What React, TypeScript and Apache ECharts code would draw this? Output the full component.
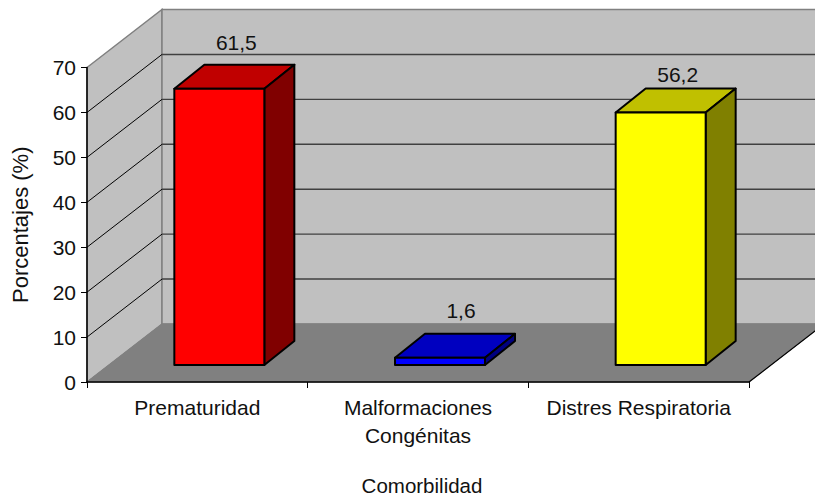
import React, { useEffect, useRef } from "react";
import * as echarts from "echarts";

const categories = ["Prematuridad", "Malformaciones\nCongénitas", "Distres Respiratoria"];
const values = [61.5, 1.6, 56.2];
const valueLabels = ["61,5", "1,6", "56,2"];
const gridTicks = [10, 20, 30, 40, 50, 60];
const frontColors = ["#FF0000", "#0000FF", "#FFFF00"];
const topColors = ["#C00000", "#0000C0", "#C0C000"];
const sideColors = ["#800000", "#000080", "#808000"];

const FONT = '"Liberation Sans", Arial, sans-serif';
const FS = 21;
const DEPTH_X = 75;
const DEPTH_Y = -58;
const BAR_W = 90;
const BAR_SHIFT_X = 22;
const BAR_SHIFT_Y = -17;
const BAR_DX = 30;
const BAR_DY = -24;
const labelGap = [34, 35, 26];
const labelShift = [2, 6, 2];

export default function App() {
  const ref = useRef<HTMLDivElement>(null);
  useEffect(() => {
    document.body.style.margin = "0";
    document.body.style.overflow = "hidden";
    const chart = echarts.init(ref.current!, null, { renderer: "svg" });

    const renderWalls = (params: any, api: any) => {
      const cs = params.coordSys;
      const l = cs.x, r = cs.x + cs.width, t = cs.y, b = cs.y + cs.height;
      const edge = { stroke: "#808080", lineWidth: 1.5 };
      return {
        type: "group",
        children: [
          { type: "polygon", shape: { points: [[l, t], [l + DEPTH_X, t + DEPTH_Y], [l + DEPTH_X, b + DEPTH_Y], [l, b]] }, style: { fill: "#C0C0C0", ...edge } },
          { type: "polygon", shape: { points: [[l + DEPTH_X, t + DEPTH_Y], [r + DEPTH_X, t + DEPTH_Y], [r + DEPTH_X, b + DEPTH_Y], [l + DEPTH_X, b + DEPTH_Y]] }, style: { fill: "#C0C0C0", ...edge } },
          { type: "polygon", shape: { points: [[l, b], [l + DEPTH_X, b + DEPTH_Y], [r + DEPTH_X, b + DEPTH_Y], [r, b]] }, style: { fill: "#808080", stroke: "#808080", lineWidth: 1 } },
          { type: "line", shape: { x1: r, y1: b, x2: r + DEPTH_X, y2: b + DEPTH_Y }, style: { stroke: "#000", lineWidth: 1.2 } },
        ],
      };
    };

    const renderGrid = (params: any, api: any) => {
      const cs = params.coordSys;
      const l = cs.x, r = cs.x + cs.width;
      const y = api.coord([0, api.value(0)])[1];
      return {
        type: "group",
        children: [
          { type: "line", shape: { x1: l, y1: y, x2: l + DEPTH_X, y2: y + DEPTH_Y }, style: { stroke: "#000", lineWidth: 1 } },
          { type: "line", shape: { x1: l + DEPTH_X, y1: y + DEPTH_Y, x2: r + DEPTH_X, y2: y + DEPTH_Y }, style: { stroke: "#404040", lineWidth: 1.4 } },
        ],
      };
    };

    const renderBar = (params: any, api: any) => {
      const i = api.value(0);
      const top = api.coord([i, api.value(1)]);
      const base = api.coord([i, 0]);
      const x0 = top[0] + BAR_SHIFT_X - BAR_W / 2;
      const x1 = x0 + BAR_W;
      const yT = top[1] + BAR_SHIFT_Y;
      const yB = base[1] + BAR_SHIFT_Y;
      const s = { stroke: "#000", lineWidth: 2, lineJoin: "round" };
      return {
        type: "group",
        children: [
          { type: "polygon", shape: { points: [[x0, yT], [x1, yT], [x1 + BAR_DX, yT + BAR_DY], [x0 + BAR_DX, yT + BAR_DY]] }, style: { fill: topColors[i], ...s } },
          { type: "polygon", shape: { points: [[x1, yT], [x1 + BAR_DX, yT + BAR_DY], [x1 + BAR_DX, yB + BAR_DY], [x1, yB]] }, style: { fill: sideColors[i], ...s } },
          { type: "rect", shape: { x: x0, y: yT, width: BAR_W, height: yB - yT }, style: { fill: frontColors[i], ...s } },
          {
            type: "text",
            style: {
              text: valueLabels[i],
              x: (x0 + x1 + BAR_DX) / 2 + labelShift[i],
              y: yT + BAR_DY / 2 - labelGap[i],
              align: "center",
              verticalAlign: "middle",
              fill: "#111",
              font: `${FS}px ${FONT}`,
            },
          },
        ],
      };
    };

    chart.setOption({
      animation: false,
      backgroundColor: "#fff",
      grid: { left: 87, right: 66, top: 67.5, bottom: 115, containLabel: false, outerBoundsMode: "none" },
      xAxis: {
        type: "category",
        data: categories,
        z: 10,
        name: "Comorbilidad",
        nameLocation: "middle",
        nameGap: 93,
        nameTextStyle: { fontFamily: FONT, fontSize: 20.5, color: "#111", padding: [0, 0, 0, 8] },
        axisLine: { lineStyle: { color: "#000", width: 1.5 } },
        axisTick: { show: true, alignWithLabel: false, length: 6, lineStyle: { color: "#000", width: 1 } },
        axisLabel: { interval: 0, margin: 11, fontFamily: FONT, fontSize: FS, lineHeight: 28, color: "#111" },
      },
      yAxis: {
        type: "value",
        min: 0,
        max: 70,
        interval: 10,
        z: 10,
        name: "Porcentajes (%)",
        nameLocation: "middle",
        nameGap: 56,
        nameRotate: 90,
        nameTextStyle: { fontFamily: FONT, fontSize: 22, color: "#111" },
        splitLine: { show: false },
        axisLine: { show: true, lineStyle: { color: "#000", width: 1.5 } },
        axisTick: { show: true, length: 6, lineStyle: { color: "#000", width: 1 } },
        axisLabel: { margin: 11, fontFamily: FONT, fontSize: FS, color: "#111" },
      },
      series: [
        { type: "custom", name: "walls", z: 1, silent: true, data: [[0, 0]], encode: { x: 0, y: 1 }, renderItem: renderWalls },
        { type: "custom", name: "grid", z: 2, silent: true, data: gridTicks.map((v) => [v]), encode: { y: 0 }, renderItem: renderGrid },
        { type: "custom", name: "Porcentajes", z: 3, data: values.map((v, i) => [i, v]), encode: { x: 0, y: 1 }, renderItem: renderBar },
      ],
    });
    return () => chart.dispose();
  }, []);
  return <div ref={ref} style={{ width: 815, height: 497 }} />;
}
